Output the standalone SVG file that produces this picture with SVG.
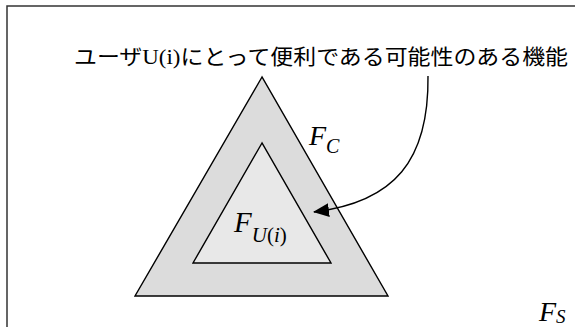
<svg xmlns="http://www.w3.org/2000/svg" width="575" height="327" viewBox="0 0 575 327">
<defs>
<style>
.tri{stroke:#000;stroke-width:1.4;stroke-linejoin:miter}
.lbl{font-family:"Liberation Serif","Times New Roman",serif;font-style:italic;fill:#000}
.jp{font-family:"Liberation Serif","Noto Sans CJK JP",serif;fill:#000}
</style>
<marker id="ah" viewBox="0 0 16 14" refX="15" refY="7" markerWidth="16" markerHeight="14" markerUnits="userSpaceOnUse" orient="auto">
<path d="M0,0 L16,7 L0,14 Z" fill="#000"/>
</marker>
</defs>
<rect id="frame" x="7" y="6" width="620" height="400" fill="#fff" stroke="#333" stroke-width="1.5"/>
<g id="node-fc">
<polygon class="tri" points="262,77 135,296 388,296" fill="#dcdcdc"/>
<text class="lbl" x="309" y="145" font-size="28">F<tspan font-size="20" dy="8">C</tspan></text>
</g>
<g id="node-fu">
<polygon class="tri" points="262,143 193,263 331,263" fill="#e8e8e8"/>
<text class="lbl" x="234" y="232" font-size="29">F<tspan font-size="21" dy="10">U</tspan><tspan font-size="21" font-style="normal">(</tspan><tspan font-size="21">i</tspan><tspan font-size="21" font-style="normal">)</tspan></text>
</g>
<g id="node-fs">
<text class="lbl" x="539" y="321" font-size="28">F<tspan font-size="19" dy="2">S</tspan></text>
</g>
<g id="label">
<text class="jp" x="74" y="64" font-size="21" textLength="494" lengthAdjust="spacingAndGlyphs">ユーザU(i)にとって便利である可能性のある機能</text>
</g>
<g id="connectors">
<path d="M428,76 C429,160 395,202 314,212" fill="none" stroke="#000" stroke-width="1.4" marker-end="url(#ah)"/>
</g>
</svg>
